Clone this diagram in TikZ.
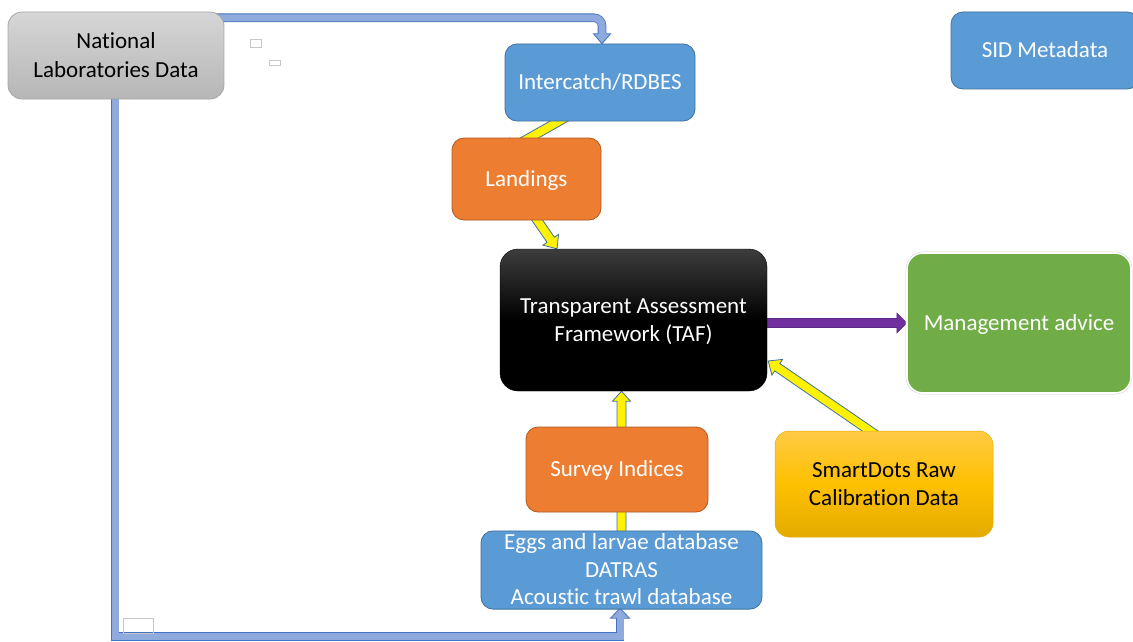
\documentclass[tikz,border=0pt]{standalone}
\usepackage{fontspec}
\setmainfont{Carlito}[Ligatures={NoCommon}]
\usetikzlibrary{calc}
\definecolor{boxblue}{HTML}{5B9BD5}
\definecolor{boxblueedge}{HTML}{41719C}
\definecolor{boxorange}{HTML}{ED7D31}
\definecolor{boxorangeedge}{HTML}{AE5A21}
\definecolor{boxgreen}{HTML}{70AD47}
\definecolor{lnblue}{HTML}{8FAADC}
\definecolor{lnblueedge}{HTML}{4472C4}
\definecolor{arrpurple}{HTML}{7030A0}
\definecolor{arrpurpleedge}{HTML}{5A2783}
\definecolor{gtop}{HTML}{D6D6D6}
\definecolor{gbot}{HTML}{B6B6B6}
\definecolor{gedge}{HTML}{A5A5A5}
\definecolor{ytop}{HTML}{FFCA45}
\definecolor{ymid}{HTML}{FFC000}
\definecolor{ybot}{HTML}{E3AB00}
\newcommand\blockarrow[6]{%
  \coordinate (BAc) at ($(#3)!#6!(#2)$);
  \draw[#1] ($(#2)!#4!90:(#3)$) -- ($(BAc)!#4!90:(#3)$) -- ($(BAc)!#5!90:(#3)$)
    -- (#3) -- ($(BAc)!#5!-90:(#3)$) -- ($(BAc)!#4!-90:(#3)$) -- ($(#2)!#4!-90:(#3)$) -- cycle;
}
\newcommand\lnst{\rule[-4.2pt]{0pt}{23.2pt}}
\tikzset{
  box/.style={rounded corners=12pt, inner sep=0pt, align=center,
    font=\fontsize{23}{28.5}\selectfont},
  bluebox/.style={box, fill=boxblue, draw=boxblueedge, line width=0.8pt, text=white},
  orangebox/.style={box, fill=boxorange, draw=boxorangeedge, line width=0.8pt, text=white},
  yarrow/.style={fill=yellow, draw=boxblueedge, line width=0.8pt, line join=miter},
  parrow/.style={fill=arrpurple, draw=arrpurpleedge, line width=0.6pt, line join=miter},
  lnborder/.style={draw=lnblueedge, line width=8.6pt},
  lnfill/.style={draw=lnblue, line width=7pt},
  lnhead/.style={fill=lnblue, draw=lnblueedge, line width=0.8pt, line join=miter},
  ghost/.style={draw=gray!45, line width=0.6pt}
}
\begin{document}
\begin{tikzpicture}[x=1pt, y=-1pt]
\useasboundingbox (0,0) rectangle (1133,642);
\clip (0,0) rectangle (1133,642);
\fill[white] (0,0) rectangle (1133,642);

% node frames (positions only), drawn later
\path
  node[box, minimum width=216pt, minimum height=87pt] (nat) at (116,55.5) {}
  node[box, minimum width=190pt, minimum height=77pt] (inter) at (600,82.5) {}
  node[box, minimum width=149pt, minimum height=82pt] (land) at (526.5,179) {}
  node[box, minimum width=267pt, minimum height=142pt] (taf) at (633.5,320) {}
  node[box, minimum width=224pt, minimum height=140pt] (mgmt) at (1019,323) {}
  node[box, minimum width=218pt, minimum height=106pt] (smart) at (884,484) {}
  node[box, minimum width=182pt, minimum height=85pt] (surv) at (617,469.5) {}
  node[box, minimum width=281pt, minimum height=76pt] (eggs) at (621.5,570) {}
  node[box, minimum width=188pt, minimum height=77pt] (sid) at (1045,50.5) {};

% blue connector: National -> Intercatch
\coordinate (ts) at ($(nat.north east)+(-10,6)$);
\coordinate (tt) at ($(inter.north)+(2,0)$);
\coordinate (tb) at ($(tt)+(0,-10)$);
\draw[lnborder, rounded corners=8pt] (ts) -- (ts -| tt) -- (tb);
\draw[lnhead] (tt) -- ++(-8.5,-10) -- ++(17,0) -- cycle;
\draw[lnfill, rounded corners=8pt] (ts) -- (ts -| tt) -- ($(tb)+(0,1.5)$);

% blue connector: National -> Eggs
\coordinate (bs) at ($(nat.south)+(-1,-5)$);
\coordinate (bt) at ($(eggs.south)+(-1.5,0)$);
\coordinate (bb) at ($(bt)+(0,10)$);
\coordinate (bl) at ($(bs)+(0,542.5)$);
\draw[lnborder, line join=miter] (bs) -- (bl) -- (bl -| bt) -- (bb);
\draw[lnhead] (bt) -- ++(-9.5,10) -- ++(19,0) -- cycle;
\draw[lnfill, line join=miter] (bs) -- (bl) -- (bl -| bt) -- ($(bb)+(0,-1.5)$);

% yellow arrows
\coordinate (y1s) at ($(inter.south)+(-30.5,-6)$);
\coordinate (y1e) at ($(land.north)+(-21.5,14)$);
\blockarrow{yarrow}{y1s}{y1e}{4.5pt}{9.5pt}{11pt}
\coordinate (y2s) at ($(land.south)+(4.5,-9)$);
\coordinate (y2e) at ($(taf.north)+(-76.5,0)$);
\blockarrow{yarrow}{y2s}{y2e}{4.5pt}{9.5pt}{11pt}
\coordinate (y3s) at ($(eggs.north)+(0,8)$);
\coordinate (y3e) at ($(eggs.north |- surv.south)+(0,-14)$);
\blockarrow{yarrow}{y3s}{y3e}{4.5pt}{9pt}{10pt}
\coordinate (y4s) at ($(eggs.north |- surv.north)+(0,8)$);
\coordinate (y4e) at (eggs.north |- taf.south);
\blockarrow{yarrow}{y4s}{y4e}{4.5pt}{9pt}{10pt}
\coordinate (y5s) at ($(smart.north)+(-1,9)$);
\coordinate (y5e) at ($(taf.east)+(1,41)$);
\blockarrow{yarrow}{y5s}{y5e}{4.5pt}{9.5pt}{11pt}

% purple arrow
\coordinate (ps) at ($(taf.east)+(-8,3)$);
\coordinate (pe) at (mgmt.west);
\blockarrow{parrow}{ps}{pe}{4.5pt}{10pt}{10pt}

% boxes
\node[box, top color=gtop, bottom color=gbot, draw=gedge, line width=0.8pt, rounded corners=14pt,
  minimum width=216pt, minimum height=87pt] (natb) at (nat.center) {\lnst National\\\lnst Laboratories Data};
\node[bluebox, minimum width=190pt, minimum height=77pt] (interb) at (inter.center) {\lnst Intercatch/RDBES};
\node[orangebox, minimum width=149pt, minimum height=82pt] (landb) at (land.center) {\lnst Landings};
\node[box, rounded corners=18pt, top color=black!76, bottom color=black, middle color=black,
  draw=black, text=white, minimum width=267pt, minimum height=142pt] (tafb) at (taf.center)
  {\lnst Transparent Assessment\\\lnst Framework (TAF)};
\node[box, rounded corners=16pt, fill=boxgreen, draw=gray!35, line width=2.6pt,
  minimum width=224pt, minimum height=140pt] (mgmto) at (mgmt.center) {};
\node[box, rounded corners=16pt, fill=boxgreen, draw=white, line width=1.6pt, text=white,
  minimum width=224pt, minimum height=140pt] (mgmtb) at (mgmt.center) {\lnst Management advice};
\node[box, rounded corners=14pt, top color=ytop, bottom color=ybot, middle color=ymid,
  draw=ymid!90!black, line width=0.5pt, minimum width=218pt, minimum height=106pt] (smartb) at (smart.center)
  {\lnst SmartDots Raw\\\lnst Calibration Data};
\node[orangebox, minimum width=182pt, minimum height=85pt] (survb) at (surv.center) {\lnst Survey Indices};
\node[bluebox, minimum width=281pt, minimum height=76pt, font=\fontsize{23}{27.5}\selectfont] (eggsb) at (eggs.center)
  {\lnst Eggs and larvae database\\\lnst DATRAS\\\lnst Acoustic trawl database};
\node[bluebox, minimum width=188pt, minimum height=77pt] (sidb) at (sid.center) {\lnst SID Metadata};

% small stray outlines
\draw[ghost] (250,39) rectangle (261,47);
\draw[ghost] (269,60) rectangle (280,65);
\draw[ghost] (123,618) rectangle (153,633);
\end{tikzpicture}
\end{document}
